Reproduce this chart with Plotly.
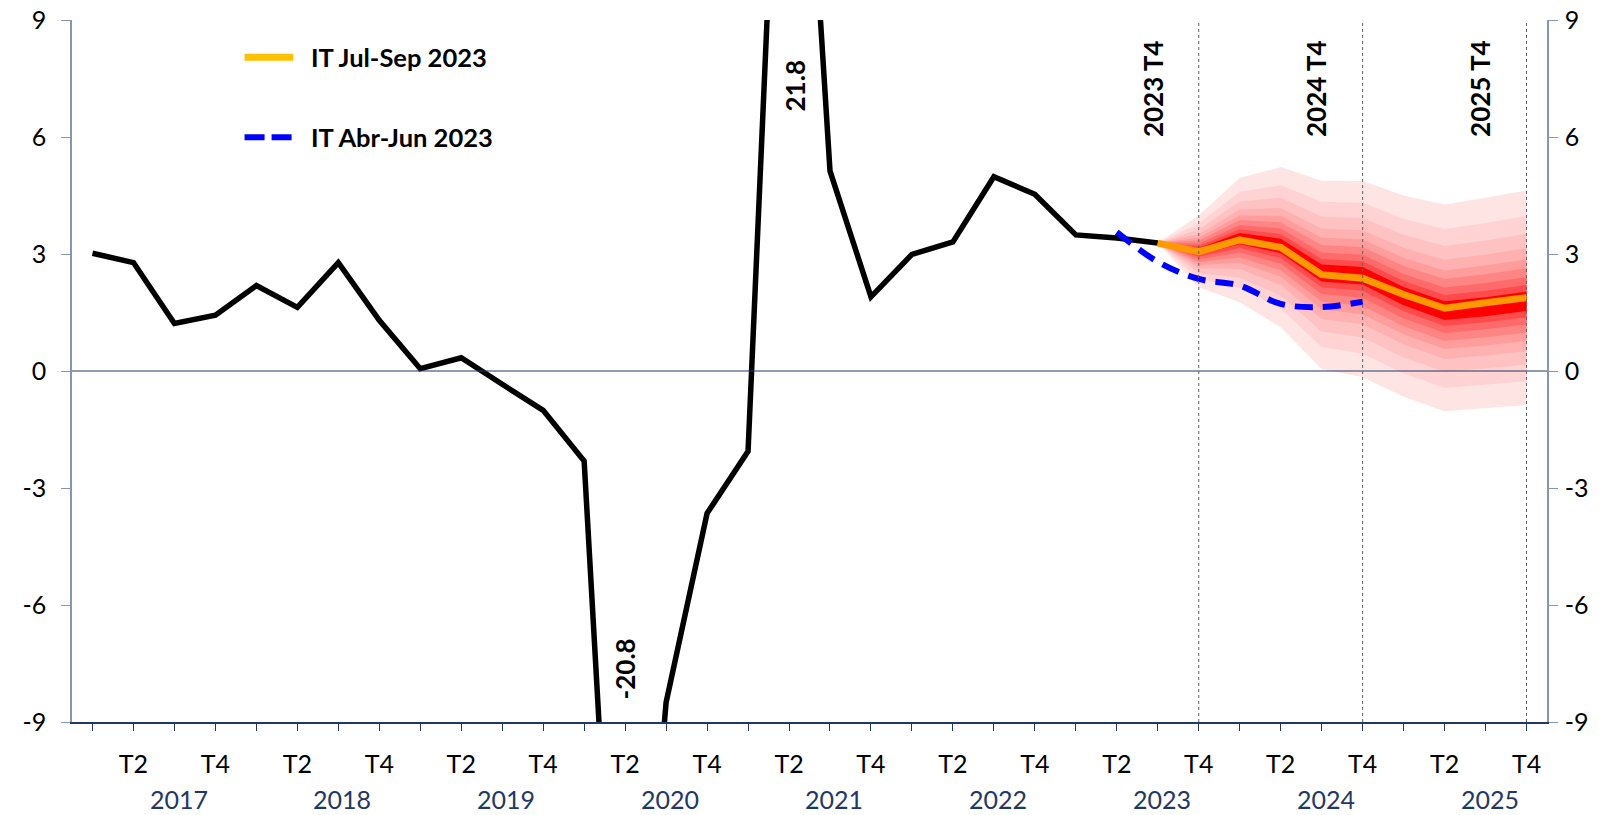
import plotly.graph_objects as go

# quarters 2017 T1 .. 2025 T4 -> index 0..35
years = ['2017', '2018', '2019', '2020', '2021', '2022', '2023', '2024', '2025']
quarters = [f'{y} T{q}' for y in years for q in range(1, 5)]
tick_text = ['T2' if i % 4 == 1 else 'T4' if i % 4 == 3 else '' for i in range(len(quarters))]

# observed series (2017 T1 .. 2023 T3)
observed = [3.02, 2.78, 1.22, 1.43, 2.19, 1.63, 2.78, 1.30, 0.06, 0.34, -0.34, -1.01,
            -2.31, -20.8, -8.5, -3.65, -2.06, 21.8, 5.13, 1.90, 2.99, 3.31, 4.98, 4.53,
            3.49, 3.41, 3.28]

# IT Jul-Sep 2023 projection (2023 T3 .. 2025 T4)
proj_jul = [3.28, 3.06, 3.36, 3.17, 2.47, 2.38, 1.96, 1.61, 1.75, 1.88]
# IT Abr-Jun 2023 projection (2023 T2 .. 2024 T4)
proj_abr = [3.56, 2.80, 2.36, 2.19, 1.72, 1.64, 1.78]

# fan chart (2023 T3 .. 2025 T4): centre, outer upper and outer lower bounds
fan_mid = [3.28, 3.07, 3.40, 3.21, 2.52, 2.45, 1.92, 1.54, 1.64, 1.78]
fan_hi = [3.28, 3.99, 4.95, 5.23, 4.88, 4.87, 4.50, 4.27, 4.44, 4.63]
fan_lo = [3.28, 2.15, 1.76, 1.12, 0.05, -0.16, -0.66, -1.03, -0.95, -0.87]
# band edges as share of the outer half-width, outermost first
band_share = [1.0, 0.77, 0.61, 0.48, 0.38, 0.30, 0.22, 0.15, 0.09]
band_colors = ['#FFE4E4', '#FFD3D3', '#FFC2C2', '#FFB0B0', '#FF9C9C',
               '#FF8585', '#FF6B6B', '#FF4B4B', '#FF0000']

vline_labels = ['2023 T4', '2024 T4', '2025 T4']
yticks = [-9, -6, -3, 0, 3, 6, 9]

idx_obs = list(range(len(observed)))
idx_fan = list(range(26, 26 + len(fan_mid)))
idx_abr = list(range(25, 25 + len(proj_abr)))

FONT = 'Lato, Open Sans, sans-serif'
NAVY = '#1F3864'
AXIS_GREY = '#8496B0'

fig = go.Figure()

for share, col in zip(band_share, band_colors):
    up = [m + share * (h - m) for m, h in zip(fan_mid, fan_hi)]
    lo = [m - share * (m - l) for m, l in zip(fan_mid, fan_lo)]
    fig.add_trace(go.Scatter(x=idx_fan + idx_fan[::-1], y=up + lo[::-1],
                             fill='toself', fillcolor=col, mode='lines',
                             line=dict(width=0), hoverinfo='skip', showlegend=False))

fig.add_trace(go.Scatter(x=idx_obs, y=observed, mode='lines',
                         line=dict(color='black', width=5.5), showlegend=False))
fig.add_trace(go.Scatter(x=idx_abr, y=proj_abr, mode='lines', line_shape='spline',
                         line=dict(color='#0000FF', width=6, dash='18px,10px'),
                         name='IT Abr-Jun 2023', showlegend=False))
fig.add_trace(go.Scatter(x=idx_fan, y=proj_jul, mode='lines',
                         line=dict(color='#FF9900', width=7),
                         name='IT Jul-Sep 2023', showlegend=False))
# dummy trace so the right axis gets drawn
fig.add_trace(go.Scatter(x=[None], y=[None], yaxis='y2', showlegend=False))

# zero line and forecast year markers
fig.add_shape(type='line', xref='paper', x0=0, x1=1, yref='y', y0=0, y1=0,
              line=dict(color=NAVY, width=1.2), layer='above')
for lab in vline_labels:
    xq = quarters.index(lab)
    fig.add_shape(type='line', xref='x', x0=xq, x1=xq, yref='y', y0=-9, y1=9,
                  line=dict(color='#606060', width=1, dash='dot'), layer='above')
    fig.add_annotation(x=xq - 1.12, y=7.25, text=f'<b>{lab}</b>', textangle=-90,
                       showarrow=False, font=dict(size=26, color='black', family=FONT))

# out-of-range values
fig.add_annotation(x=17.15, y=7.3, text='<b>21.8</b>', textangle=-90, showarrow=False,
                   font=dict(size=26, color='black', family=FONT))
fig.add_annotation(x=13.0, y=-7.65, text='<b>-20.8</b>', textangle=-90, showarrow=False,
                   font=dict(size=26, color='black', family=FONT))

# year labels under the quarter ticks
for k, y in enumerate(years):
    fig.add_annotation(x=4 * k + 2.1, xref='x', y=-0.11, yref='paper', text=y,
                       showarrow=False, yanchor='middle',
                       font=dict(size=25, color=NAVY, family=FONT))

# hand-made legend
fig.add_shape(type='line', xref='paper', yref='paper', x0=0.117, x1=0.150, y0=0.947, y1=0.947,
              line=dict(color='#FFC000', width=7))
fig.add_shape(type='line', xref='paper', yref='paper', x0=0.117, x1=0.150, y0=0.833, y1=0.833,
              line=dict(color='#0000FF', width=6, dash='20px,7px'))
fig.add_annotation(x=0.161, y=0.947, xref='paper', yref='paper', text='<b>IT Jul-Sep 2023</b>',
                   xanchor='left', yanchor='middle', showarrow=False,
                   font=dict(size=25.5, color='black', family=FONT))
fig.add_annotation(x=0.161, y=0.833, xref='paper', yref='paper', text='<b>IT Abr-Jun 2023</b>',
                   xanchor='left', yanchor='middle', showarrow=False,
                   font=dict(size=25.5, color='black', family=FONT))

ytick_text = [str(v) for v in yticks]
fig.update_layout(
    width=1620, height=815,
    margin=dict(l=72, r=73, t=20, b=93),
    plot_bgcolor='white', paper_bgcolor='white',
    font=dict(family=FONT, size=25, color='black'),
    showlegend=False,
    xaxis=dict(range=[-0.5, 35.5], tickvals=list(range(len(quarters))), ticktext=tick_text,
               ticks='outside', ticklen=7, tickcolor=NAVY, showgrid=False, zeroline=False,
               showline=True, linecolor=NAVY, linewidth=1.5, ticklabelstandoff=12,
               automargin=False, tickfont=dict(size=25, color='black')),
    yaxis=dict(range=[-9, 9], tickvals=yticks, ticktext=ytick_text, ticks='outside', ticklen=9,
               tickcolor=AXIS_GREY, showgrid=False, zeroline=False, showline=True,
               linecolor=AXIS_GREY, linewidth=1.5, ticklabelstandoff=10, automargin=False,
               tickfont=dict(size=25, color='black')),
    yaxis2=dict(range=[-9, 9], tickvals=yticks, ticktext=ytick_text, overlaying='y',
                side='right', anchor='x', ticks='outside', ticklen=9, tickcolor=AXIS_GREY,
                showgrid=False, zeroline=False, showline=True, linecolor=AXIS_GREY,
                linewidth=1.5, ticklabelstandoff=2, automargin=False,
                tickfont=dict(size=25, color='black')),
)

# drop the page's default body margin so the figure fills the window exactly
fig.write_html('out.html', config={'displayModeBar': False},
               post_script="document.body.style.margin='0';document.body.style.overflow='hidden';")
